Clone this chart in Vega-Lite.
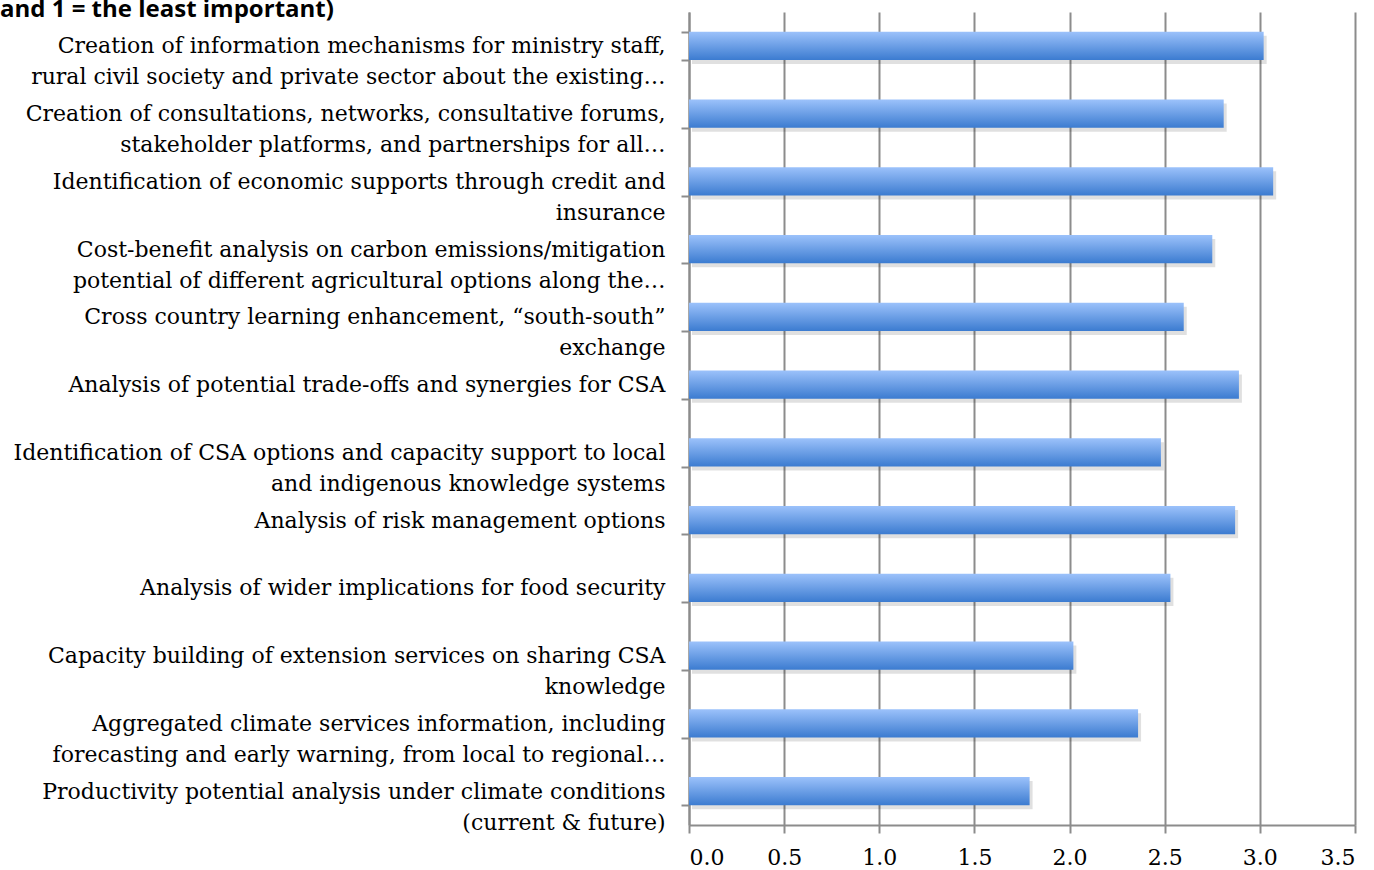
{
  "$schema": "https://vega.github.io/schema/vega-lite/v6.json",
  "width": 666,
  "height": 813,
  "autosize": {"type": "none"},
  "padding": {"left": 689, "top": 12, "right": 19, "bottom": 45},
  "background": "white",
  "title": {
    "text": "and 1 = the least important)",
    "anchor": "start",
    "frame": "group",
    "dx": -689,
    "dy": 40,
    "offset": 0,
    "font": "Open Sans",
    "fontSize": 24,
    "fontWeight": "bold",
    "color": "black",
    "baseline": "alphabetic"
  },
  "config": {"view": {"stroke": null}},
  "data": {
    "values": [
      {"item": "Creation of information mechanisms for ministry staff,|rural civil society and private sector about the existing…", "score": 3.02},
      {"item": "Creation of consultations, networks, consultative forums,|stakeholder platforms, and partnerships for all…", "score": 2.81},
      {"item": "Identification of economic supports through credit and|insurance", "score": 3.07},
      {"item": "Cost-benefit analysis on carbon emissions/mitigation|potential of different agricultural options along the…", "score": 2.75},
      {"item": "Cross country learning enhancement, “south-south”|exchange", "score": 2.6},
      {"item": "Analysis of potential trade-offs and synergies for CSA", "score": 2.89},
      {"item": "Identification of CSA options and capacity support to local|and indigenous knowledge systems", "score": 2.48},
      {"item": "Analysis of risk management options", "score": 2.87},
      {"item": "Analysis of wider implications for food security", "score": 2.53},
      {"item": "Capacity building of extension services on sharing CSA|knowledge", "score": 2.02},
      {"item": "Aggregated climate services information, including|forecasting and early warning, from local to regional…", "score": 2.36},
      {"item": "Productivity potential analysis under climate conditions|(current & future)", "score": 1.79}
    ]
  },
  "encoding": {
    "y": {
      "field": "item",
      "type": "nominal",
      "sort": null,
      "scale": {"paddingInner": 0.58, "paddingOuter": 0.29},
      "axis": {
        "title": null,
        "labelExpr": "split(datum.label, '|')",
        "labelFont": "DejaVu Serif",
        "labelFontSize": 22,
        "labelLineHeight": 31,
        "labelColor": "black",
        "labelLimit": 0,
        "labelPadding": 16,
        "labelBaseline": "middle",
        "encoding": {
          "labels": {
            "update": {
              "dy": {"value": {"expr": "indexof(datum.value, '|') >= 0 ? -15 : 0"}}
            }
          }
        },
        "tickBand": "extent",
        "tickSize": 8,
        "tickColor": "#8c8c8c",
        "tickWidth": 2,
        "domainColor": "#8c8c8c",
        "domainWidth": 2
      }
    },
    "x": {
      "field": "score",
      "type": "quantitative",
      "scale": {"domain": [0, 3.5], "nice": false},
      "axis": {
        "title": null,
        "values": [0, 0.5, 1, 1.5, 2, 2.5, 3, 3.5],
        "format": ".1f",
        "grid": true,
        "gridColor": "#8c8c8c",
        "gridWidth": 2,
        "domainColor": "#8c8c8c",
        "domainWidth": 2,
        "tickColor": "#8c8c8c",
        "tickWidth": 2,
        "tickSize": 8,
        "labelPadding": 14,
        "labelFont": "DejaVu Serif",
        "labelFontSize": 22,
        "labelColor": "black"
      }
    }
  },
  "layer": [
    {
      "mark": {"type": "bar", "color": "#000000", "opacity": 0.12, "xOffset": 3, "yOffset": 4}
    },
    {
      "mark": {
        "type": "bar",
        "color": {
          "gradient": "linear",
          "x1": 0, "y1": 0, "x2": 0, "y2": 1,
          "stops": [
            {"offset": 0, "color": "#9cc2fb"},
            {"offset": 1, "color": "#3b7bd0"}
          ]
        }
      }
    }
  ]
}
